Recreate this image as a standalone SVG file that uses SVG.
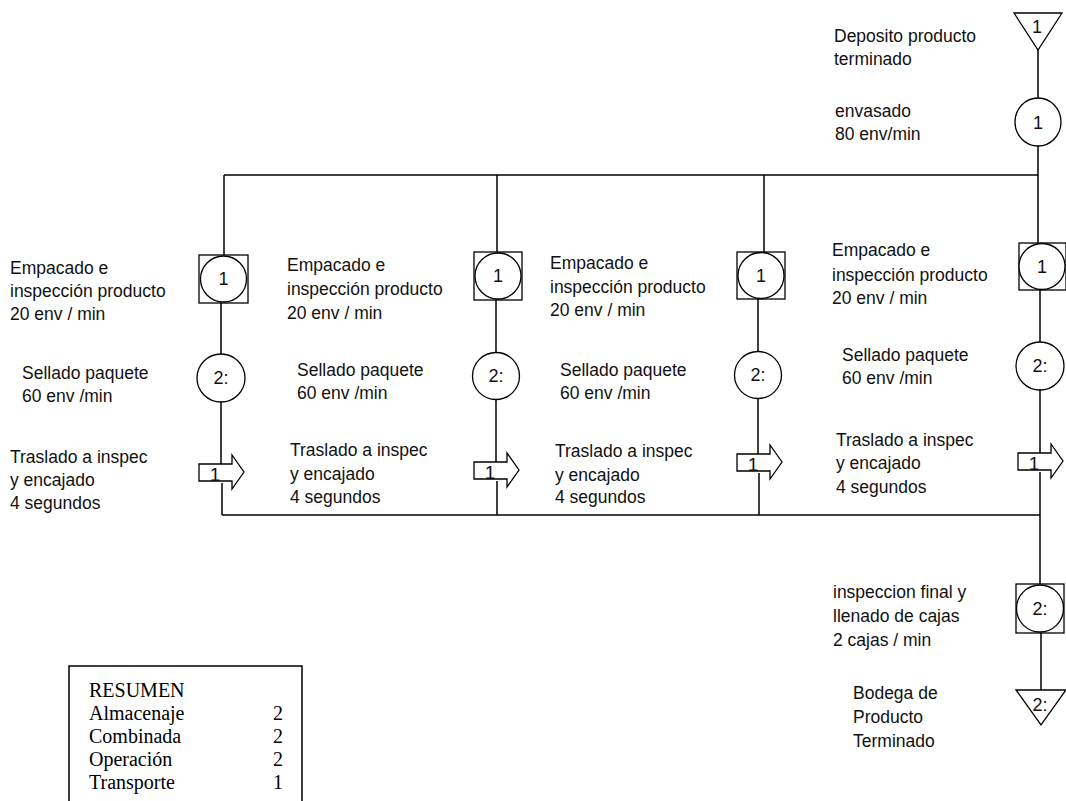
<svg xmlns="http://www.w3.org/2000/svg" width="1066" height="801" viewBox="0 0 1066 801">
  <style>
    .ln { stroke: #000; stroke-width: 1.5; fill: none; }
    .sym { stroke: #000; stroke-width: 1.3; fill: #fff; }
    .lbl { font-family: "Liberation Sans", Arial, sans-serif; font-size: 17.5px; fill: #111; }
    .num { font-family: "Liberation Sans", Arial, sans-serif; font-size: 18px; fill: #111; text-anchor: middle; }
    .tnum { font-family: "Liberation Sans", Arial, sans-serif; font-size: 19px; fill: #111; text-anchor: middle; }
    .sum { font-family: "Liberation Serif", "Times New Roman", serif; font-size: 20px; fill: #000; }
  </style>
  <defs>
    <!-- transport arrow: open box with arrow head, origin at top-left of the box -->
    <path id="arrow" d="M0,0 H33 V-9 L45,8 L33,25 V17 H0 Z"/>
  </defs>

  <rect width="1066" height="801" fill="#fff"/>

  <!-- connectors -->
  <g id="connectors" class="ln">
    <line x1="1038" y1="50" x2="1038" y2="99"/>
    <line x1="1038" y1="146" x2="1038" y2="175"/>
    <line x1="224" y1="175" x2="1038" y2="175"/>
    <line x1="224" y1="175" x2="224" y2="255"/>
    <line x1="497" y1="175" x2="497" y2="252"/>
    <line x1="764" y1="175" x2="764" y2="252"/>
    <line x1="1038" y1="175" x2="1038" y2="243"/>
    <!-- column 1 -->
    <line x1="221" y1="303" x2="221" y2="354"/>
    <line x1="221" y1="402" x2="221" y2="464"/>
    <line x1="222" y1="483" x2="222" y2="515"/>
    <!-- column 2 -->
    <line x1="496" y1="300" x2="496" y2="353"/>
    <line x1="496" y1="400" x2="496" y2="462"/>
    <line x1="497" y1="481" x2="497" y2="515"/>
    <!-- column 3 -->
    <line x1="758" y1="298" x2="758" y2="352"/>
    <line x1="758" y1="398" x2="758" y2="454"/>
    <line x1="759" y1="473" x2="759" y2="515"/>
    <!-- column 4 -->
    <line x1="1040" y1="290" x2="1040" y2="342"/>
    <line x1="1040" y1="390" x2="1040" y2="453"/>
    <line x1="1040" y1="472" x2="1040" y2="584"/>
    <!-- collector -->
    <line x1="222" y1="515" x2="1040" y2="515"/>
    <line x1="1041" y1="633" x2="1041" y2="690"/>
  </g>

  <!-- storage: finished product deposit -->
  <g id="deposito">
    <polygon class="sym" points="1014,13 1062,13 1038,50"/>
    <text class="num" x="1037" y="33">1</text>
    <text class="lbl" x="834" y="42">Deposito producto</text>
    <text class="lbl" x="834" y="65">terminado</text>
  </g>

  <!-- operation: bottling -->
  <g id="envasado">
    <ellipse class="sym" cx="1038" cy="122" rx="23" ry="24"/>
    <text class="num" x="1038" y="129">1</text>
    <text class="lbl" x="835" y="117">envasado</text>
    <text class="lbl" x="835" y="140">80 env/min</text>
  </g>

  <!-- column 1 -->
  <g id="empacado-1">
    <rect class="sym" x="199" y="255" width="49" height="48"/>
    <circle class="sym" cx="223.5" cy="279" r="23"/>
    <text class="num" x="223.5" y="285">1</text>
    <text class="lbl" x="10" y="274">Empacado e</text>
    <text class="lbl" x="10" y="297">inspección producto</text>
    <text class="lbl" x="10" y="320">20 env / min</text>
  </g>
  <g id="sellado-1">
    <circle class="sym" cx="221" cy="378" r="24"/>
    <text class="num" x="221" y="384">2:</text>
    <text class="lbl" x="22" y="379">Sellado paquete</text>
    <text class="lbl" x="22" y="402">60 env /min</text>
  </g>
  <g id="traslado-1">
    <use href="#arrow" class="sym" x="199" y="464"/>
    <text class="tnum" x="215" y="481">1</text>
    <text class="lbl" x="10" y="463">Traslado a inspec</text>
    <text class="lbl" x="10" y="486">y encajado</text>
    <text class="lbl" x="10" y="509">4 segundos</text>
  </g>

  <!-- column 2 -->
  <g id="empacado-2">
    <rect class="sym" x="474" y="252" width="48" height="48"/>
    <circle class="sym" cx="498" cy="276" r="23"/>
    <text class="num" x="498" y="282">1</text>
    <text class="lbl" x="287" y="271">Empacado e</text>
    <text class="lbl" x="287" y="295">inspección producto</text>
    <text class="lbl" x="287" y="319">20 env / min</text>
  </g>
  <g id="sellado-2">
    <circle class="sym" cx="496" cy="376" r="23.5"/>
    <text class="num" x="496" y="382">2:</text>
    <text class="lbl" x="297" y="376">Sellado paquete</text>
    <text class="lbl" x="297" y="399">60 env /min</text>
  </g>
  <g id="traslado-2">
    <use href="#arrow" class="sym" x="474" y="462"/>
    <text class="tnum" x="490" y="479">1</text>
    <text class="lbl" x="290" y="456">Traslado a inspec</text>
    <text class="lbl" x="290" y="480">y encajado</text>
    <text class="lbl" x="290" y="503">4 segundos</text>
  </g>

  <!-- column 3 -->
  <g id="empacado-3">
    <rect class="sym" x="737" y="252" width="48" height="47"/>
    <circle class="sym" cx="761" cy="275.5" r="23"/>
    <text class="num" x="761" y="282">1</text>
    <text class="lbl" x="550" y="269">Empacado e</text>
    <text class="lbl" x="550" y="293">inspección producto</text>
    <text class="lbl" x="550" y="316">20 env / min</text>
  </g>
  <g id="sellado-3">
    <circle class="sym" cx="758" cy="375" r="23.5"/>
    <text class="num" x="758" y="381">2:</text>
    <text class="lbl" x="560" y="376">Sellado paquete</text>
    <text class="lbl" x="560" y="399">60 env /min</text>
  </g>
  <g id="traslado-3">
    <use href="#arrow" class="sym" x="737" y="454"/>
    <text class="tnum" x="753" y="471">1</text>
    <text class="lbl" x="555" y="457">Traslado a inspec</text>
    <text class="lbl" x="555" y="481">y encajado</text>
    <text class="lbl" x="555" y="503">4 segundos</text>
  </g>

  <!-- column 4 -->
  <g id="empacado-4">
    <rect class="sym" x="1019" y="243" width="47" height="47"/>
    <circle class="sym" cx="1042" cy="266.5" r="23"/>
    <text class="num" x="1042" y="273">1</text>
    <text class="lbl" x="832" y="256">Empacado e</text>
    <text class="lbl" x="832" y="281">inspección producto</text>
    <text class="lbl" x="832" y="304">20 env / min</text>
  </g>
  <g id="sellado-4">
    <circle class="sym" cx="1040" cy="366" r="24"/>
    <text class="num" x="1040" y="372">2:</text>
    <text class="lbl" x="842" y="361">Sellado paquete</text>
    <text class="lbl" x="842" y="384">60 env /min</text>
  </g>
  <g id="traslado-4">
    <use href="#arrow" class="sym" x="1018" y="453"/>
    <text class="tnum" x="1034" y="470">1</text>
    <text class="lbl" x="836" y="446">Traslado a inspec</text>
    <text class="lbl" x="836" y="469">y encajado</text>
    <text class="lbl" x="836" y="493">4 segundos</text>
  </g>

  <!-- combined: final inspection and boxing -->
  <g id="inspeccion-final">
    <rect class="sym" x="1016" y="584" width="48" height="49"/>
    <circle class="sym" cx="1040" cy="608.5" r="23.5"/>
    <text class="num" x="1040" y="615">2:</text>
    <text class="lbl" x="833" y="598">inspeccion final y</text>
    <text class="lbl" x="833" y="622">llenado de cajas</text>
    <text class="lbl" x="833" y="646">2 cajas / min</text>
  </g>

  <!-- storage: finished goods warehouse -->
  <g id="bodega">
    <polygon class="sym" points="1016,690 1066,690 1041,725"/>
    <text class="num" x="1040" y="711">2:</text>
    <text class="lbl" x="853" y="699">Bodega de</text>
    <text class="lbl" x="853" y="723">Producto</text>
    <text class="lbl" x="853" y="747">Terminado</text>
  </g>

  <!-- summary table -->
  <g id="resumen">
    <rect x="69" y="666" width="233" height="150" fill="#fff" stroke="#000" stroke-width="1.5"/>
    <text class="sum" x="89" y="697">RESUMEN</text>
    <text class="sum" x="89" y="720">Almacenaje</text>
    <text class="sum" x="89" y="743">Combinada</text>
    <text class="sum" x="89" y="766">Operación</text>
    <text class="sum" x="89" y="789">Transporte</text>
    <text class="sum" x="283" y="720" text-anchor="end">2</text>
    <text class="sum" x="283" y="743" text-anchor="end">2</text>
    <text class="sum" x="283" y="766" text-anchor="end">2</text>
    <text class="sum" x="283" y="789" text-anchor="end">1</text>
  </g>
</svg>
